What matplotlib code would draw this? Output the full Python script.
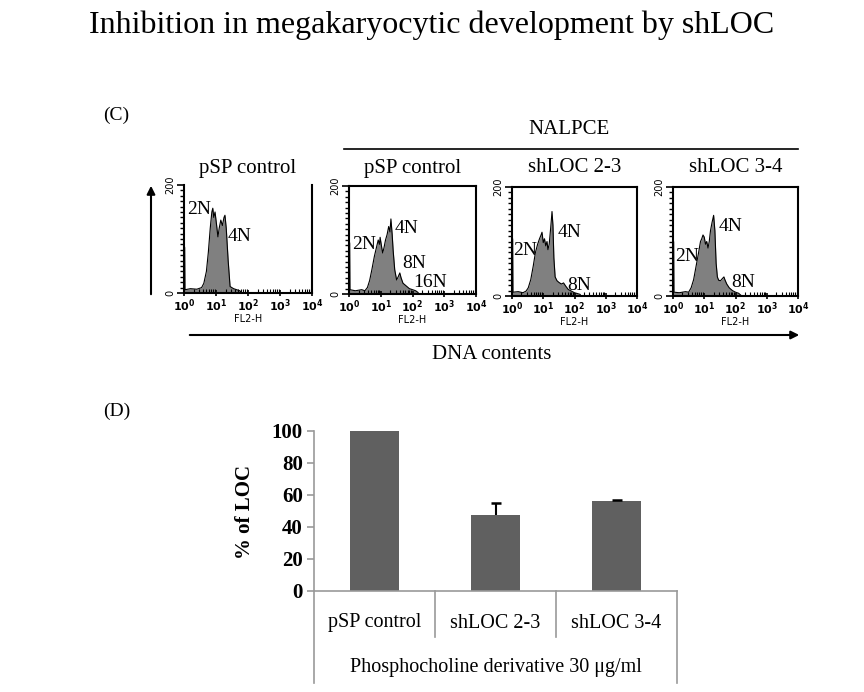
# Inhibition in megakaryocytic development by shLOC - panels (C) and (D)
import matplotlib.pyplot as plt
import numpy as np
from matplotlib.patches import FancyArrowPatch
from matplotlib.lines import Line2D
from matplotlib.ticker import MultipleLocator, LogLocator, NullFormatter

plt.rcParams['font.family'] = ['Liberation Serif', 'DejaVu Serif']
plt.rcParams['mathtext.fontset'] = 'dejavusans'

# ---- panel (C): DNA content histograms (x in log10 FL2-H, y = counts) ----
hist_titles = ['pSP control', 'pSP control', 'shLOC 2-3', 'shLOC 3-4']

h1_log = [0.00, 0.02, 0.03, 0.20, 0.40, 0.55, 0.62, 0.70, 0.76, 0.82, 0.87, 0.90, 0.93, 0.97,
          1.02, 1.06, 1.10, 1.15, 1.20, 1.25, 1.28, 1.32, 1.38, 1.44, 1.55, 1.65, 1.75, 1.80, 2.00]
h1_cnt = [85, 85, 6, 8, 7, 10, 18, 40, 75, 120, 150, 157, 140, 150,
          125, 104, 120, 135, 125, 140, 144, 120, 60, 12, 8, 6, 4, 0, 0]

h2_log = [0.00, 0.02, 0.03, 0.20, 0.40, 0.50, 0.58, 0.65, 0.72, 0.80, 0.86, 0.92, 0.96, 0.98,
          1.02, 1.06, 1.10, 1.15, 1.20, 1.25, 1.29, 1.32, 1.36, 1.39, 1.44, 1.50, 1.55, 1.60,
          1.64, 1.70, 1.80, 1.90, 2.00, 2.10, 2.17, 2.20]
h2_cnt = [95, 95, 8, 6, 8, 6, 12, 25, 45, 70, 85, 100, 92, 105,
          90, 76, 85, 100, 110, 125, 115, 139, 110, 81, 45, 26, 32, 39,
          30, 20, 15, 10, 8, 6, 3, 0]

h3_log = [0.00, 0.02, 0.03, 0.20, 0.35, 0.45, 0.52, 0.60, 0.68, 0.75, 0.82, 0.88, 0.93, 0.96,
          1.00, 1.04, 1.08, 1.12, 1.15, 1.19, 1.23, 1.26, 1.28, 1.31, 1.34, 1.38, 1.44, 1.50,
          1.58, 1.65, 1.72, 1.80, 1.90, 2.00, 2.18, 2.20]
h3_cnt = [105, 105, 7, 8, 6, 9, 15, 30, 55, 80, 95, 105, 112, 117,
          98, 105, 92, 100, 85, 95, 120, 140, 155, 130, 70, 35, 28, 25,
          22, 24, 18, 12, 9, 6, 3, 0]

h4_log = [0.00, 0.02, 0.03, 0.20, 0.40, 0.50, 0.58, 0.66, 0.74, 0.82, 0.88, 0.92, 0.96, 1.00,
          1.04, 1.08, 1.12, 1.16, 1.20, 1.25, 1.30, 1.34, 1.38, 1.42, 1.46, 1.52, 1.58, 1.63,
          1.66, 1.72, 1.80, 1.90, 2.00, 2.10, 2.16, 2.20]
h4_cnt = [100, 100, 7, 6, 8, 7, 15, 30, 55, 80, 100, 105, 112, 108,
          95, 100, 88, 100, 120, 135, 148, 120, 60, 35, 29, 28, 32, 35,
          30, 22, 15, 10, 7, 5, 2, 0]

hist_logs = [h1_log, h2_log, h3_log, h4_log]
hist_cnts = [h1_cnt, h2_cnt, h3_cnt, h4_cnt]

# ploidy labels: (text, log10 position, count)
ploidy = [
    [('2N', 0.09, 155), ('4N', 1.375, 105)],
    [('2N', 0.09, 91), ('4N', 1.45, 122), ('8N', 1.67, 57), ('16N', 2.02, 22)],
    [('2N', 0.03, 84), ('4N', 1.47, 117), ('8N', 1.76, 20)],
    [('2N', 0.06, 72), ('4N', 1.47, 127), ('8N', 1.86, 24)],
]

# ---- panel (D): bar chart ----
groups = ['pSP control', 'shLOC 2-3', 'shLOC 3-4']
pct_loc = [100, 47.5, 56.3]
pct_err = [0, 7.5, 0.8]
x_caption = 'Phosphocholine derivative 30 μg/ml'

W, H = 864, 692


def fx(px):
    return px / W


def fy(py):
    return 1 - py / H


fig = plt.figure(figsize=(W / 100, H / 100), dpi=100)

fig.text(fx(432), fy(25), 'Inhibition in megakaryocytic development by shLOC',
         ha='center', va='center', fontsize=23)
fig.text(fx(103), fy(115), '(C)', ha='left', va='center', fontsize=14)
fig.text(fx(103), fy(411), '(D)', ha='left', va='center', fontsize=14)

# NALPCE bracket
fig.text(fx(569), fy(130), 'NALPCE', ha='center', va='center', fontsize=15)
fig.add_artist(Line2D([fx(344), fx(798)], [fy(149), fy(149)], color='black', lw=1.2,
                      transform=fig.transFigure))

# axis arrows
fig.add_artist(FancyArrowPatch((fx(151), fy(297)), (fx(151), fy(183)), transform=fig.transFigure,
                               arrowstyle='-|>', mutation_scale=12, color='black', lw=1.5))
fig.add_artist(FancyArrowPatch((fx(187), fy(335)), (fx(802), fy(335)), transform=fig.transFigure,
                               arrowstyle='-|>', mutation_scale=12, color='black', lw=1.5))
fig.text(fx(492), fy(355), 'DNA contents', ha='center', va='center', fontsize=15)

boxes = [(184, 312, 185, 293), (349, 476, 186, 294), (512, 637, 187, 296), (673, 798, 187, 296)]

for i, (l, r, t, b) in enumerate(boxes):
    ax = fig.add_axes([fx(l), fy(b), (r - l) / W, (b - t) / H])
    xs = 10 ** np.array(hist_logs[i])
    ax.fill_between(xs, hist_cnts[i], color='#808080', lw=0)
    ax.plot(xs, hist_cnts[i], color='black', lw=0.8)
    ax.set_xscale('log')
    ax.set_xlim(1, 1e4)
    ax.set_ylim(0, 200)
    for s in ax.spines.values():
        s.set_linewidth(1.5)
    if i == 0:
        ax.spines['top'].set_visible(False)

    ax.set_xticks([1, 10, 100, 1000, 10000])
    ax.set_xticklabels([r'$\mathbf{10^{%d}}$' % k for k in range(5)], fontsize=8)
    ax.xaxis.set_minor_locator(LogLocator(base=10, subs=np.arange(2, 10), numticks=20))
    ax.xaxis.set_minor_formatter(NullFormatter())
    ax.tick_params(axis='x', which='major', length=4, width=1.2, direction='inout', pad=1)
    ax.tick_params(axis='x', which='minor', length=3, width=0.8, direction='in')
    ax.set_xlabel('FL2-H', fontsize=7, family='DejaVu Sans', labelpad=0)

    ax.set_yticks([0, 200])
    ax.set_yticklabels(['0', '200'], rotation=90, va='center', fontsize=7, family='DejaVu Sans')
    ax.yaxis.set_minor_locator(MultipleLocator(10))
    ax.tick_params(axis='y', which='major', length=5, width=1.2, direction='out', pad=1)
    ax.tick_params(axis='y', which='minor', length=3, width=1.0, direction='out')

    cx = (l + r) / 2
    fig.text(fx(cx), fy(168), hist_titles[i], ha='center', va='center', fontsize=15)

    for txt, lg, cnt in ploidy[i]:
        ax.text(10 ** lg, cnt, txt, ha='left', va='center', fontsize=14)

# bar chart
axb = fig.add_axes([fx(314), fy(591), (677 - 314) / W, (591 - 431) / H])
xpos = np.arange(len(groups))
vals = np.array(pct_loc)
errs = np.array(pct_err)
axb.bar(xpos, vals, width=0.4, color='#606060', zorder=2)
has_err = errs > 0
axb.errorbar(xpos[has_err], vals[has_err], yerr=[np.zeros(has_err.sum()), errs[has_err]],
             fmt='none', ecolor='black', elinewidth=1.5, capsize=0, zorder=3)
axb.plot(xpos[has_err], (vals + errs)[has_err], linestyle='none', marker='_',
         markersize=7, mew=1.8, color='black', zorder=3)
axb.set_xlim(-0.5, 2.5)
axb.set_ylim(0, 100)
axb.set_yticks(np.arange(0, 101, 20))
axb.set_yticklabels([str(v) for v in range(0, 101, 20)], fontsize=15, fontweight='bold')
axb.set_xticks([])
axb.spines['top'].set_visible(False)
axb.spines['right'].set_visible(False)
for s in ['left', 'bottom']:
    axb.spines[s].set_color('#999999')
    axb.spines[s].set_linewidth(1.2)
axb.tick_params(axis='y', length=5, color='#999999', width=1.2, pad=3)

# category table under the axis
trans = axb.get_xaxis_transform()
for k, xb in enumerate(np.arange(-0.5, len(groups), 1.0)):
    y_end = -0.575 if k in (0, len(groups)) else -0.2875
    axb.plot([xb, xb], [0, y_end], color='#999999', lw=1.2, transform=trans, clip_on=False)
for k, g in enumerate(groups):
    axb.text(k, -0.2, g, ha='center', va='center', fontsize=14.5, transform=trans)
axb.text(1, -0.48, x_caption, ha='center', va='center', fontsize=14.5, transform=trans)

fig.text(fx(245), fy(512), '% of LOC', rotation=90, ha='center', va='center',
         fontsize=15, fontweight='bold')

fig.savefig('out.png', dpi=100)
